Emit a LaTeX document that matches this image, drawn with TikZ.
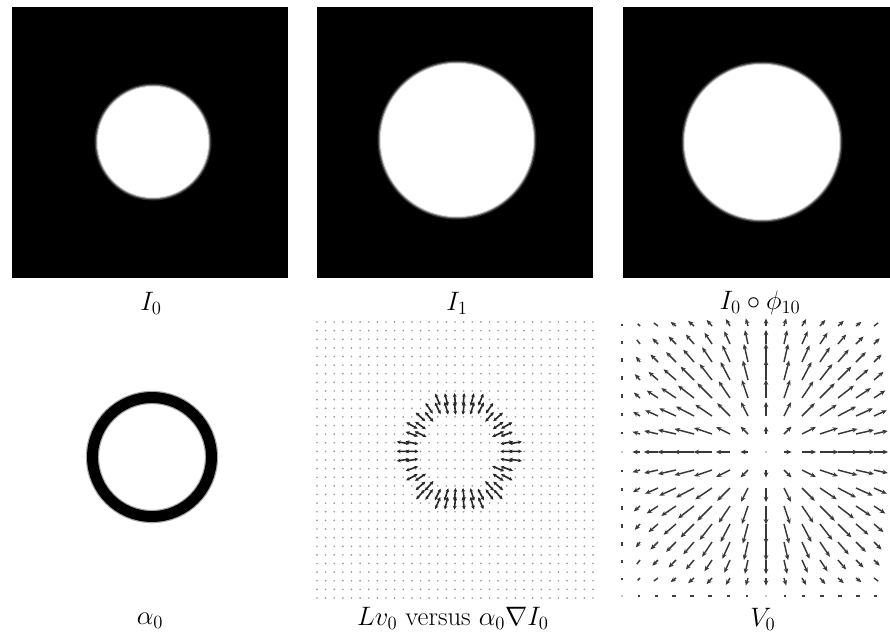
\documentclass[tikz,border=0pt]{standalone}
\usepackage{fix-cm}
\usepackage{amsmath}
\usetikzlibrary{arrows.meta}
\begin{document}
\begin{tikzpicture}[x=0.75pt,y=-0.75pt,
  lab/.style={font=\fontsize{20}{24}\selectfont, inner sep=0pt},
  vfarrow/.style={draw=black!78, line width=1.1pt, -{Stealth[length=4pt,width=3.4pt]}},
  vftick/.style={draw=black!75, line width=1.1pt},
  ringarrow/.style={draw=black!85, line width=1.2pt, {Stealth[length=2.8pt,width=2.8pt]}-{Stealth[length=2.8pt,width=2.8pt]}},
  gdot/.style={fill=black!40}]
\useasboundingbox (0,0) rectangle (890,640);
\fill[white] (0,0) rectangle (890,640);

% top row: images
\fill[black] (12,7) rectangle (288,278);
\fill[black] (317,7) rectangle (593,278);
\fill[black] (623,7) rectangle (890,278);
\foreach \cx/\cy/\rr in {153/142/56, 457/140/77, 762/142/78}{
  \fill[black!80] (\cx,\cy) circle ({\rr+2.5});
  \fill[black!50] (\cx,\cy) circle ({\rr+1.2});
  \fill[black!15] (\cx,\cy) circle ({\rr+0.2});
  \fill[white] (\cx,\cy) circle ({\rr-0.8});
}

% alpha_0 ring
\draw[black!35, line width=10pt] (152,457) circle (59.5);
\draw[black, line width=8.2pt] (152,457) circle (59.5);

% Lv0 versus alpha0 grad I0
\foreach \i in {0,...,32}{
  \foreach \j in {0,...,32}{
    \pgfmathsetmacro\px{317+8.625*\i}
    \pgfmathsetmacro\py{322+8.625*\j}
    \pgfmathsetmacro\dx{(\px-459)/10}
    \pgfmathsetmacro\dy{(\py-452)/10}
    \pgfmathsetmacro\dd{10*sqrt(\dx*\dx+\dy*\dy)}
    \pgfmathtruncatemacro\inr{and(\dd>42,\dd<58)}
    \ifnum\inr=1
      \pgfmathsetmacro\ux{65*\dx/\dd}
      \pgfmathsetmacro\uy{65*\dy/\dd}
      \draw[ringarrow] ({\px-(\ux)},{\py-(\uy)}) -- ({\px+(\ux)},{\py+(\uy)});
    \else
      \fill[gdot] (\px,\py) circle (0.95);
    \fi
  }
}

% V0 vector field
\begin{scope}
\clip (600,312) rectangle (890,640);
\foreach \i in {-8,...,7}{
  \foreach \j in {-7,...,8}{
    \pgfmathsetmacro\px{766+18*\i}
    \pgfmathsetmacro\py{452+18*\j}
    \pgfmathsetmacro\vx{20*sin(22.5*\i)*exp(-(\j)*(\j)/40)}
    \pgfmathsetmacro\vy{20*sin(22.5*\j)*exp(-(\i)*(\i)/40)}
    \pgfmathsetmacro\L{sqrt(\vx*\vx+\vy*\vy)}
    \ifdim\L pt>6pt
      \draw[vfarrow] (\px,\py) -- ++(\vx,\vy);
    \else\ifdim\L pt>1pt
      \draw[vftick] (\px,\py) -- ++(\vx,\vy);
    \else
      \fill[black!45] (\px,\py) circle (0.9);
    \fi\fi
  }
}
\end{scope}

% labels
\node[lab] (l1) at (151,303) {$I_0$};
\node[lab] (l2) at (457,303) {$I_1$};
\node[lab] (l3) at (760,303) {$I_0\circ\phi_{10}$};
\node[lab] (l4) at (150,621) {$\alpha_0$};
\node[lab] (l5) at (453,618) {$Lv_0$ versus $\alpha_0\nabla I_0$};
\node[lab] (l6) at (763,619) {$V_0$};
\end{tikzpicture}
\end{document}
